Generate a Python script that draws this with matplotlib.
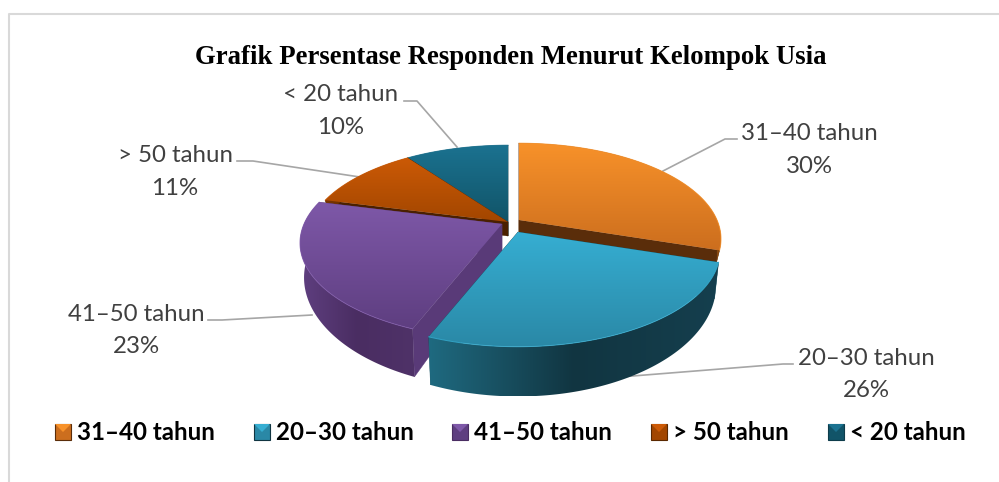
import numpy as np
import matplotlib
matplotlib.use('Agg')
import matplotlib.pyplot as plt
from matplotlib.colors import LinearSegmentedColormap
from matplotlib.patches import Polygon, Rectangle

# data
kelompok = ['31–40 tahun', '20–30 tahun', '41–50 tahun', '> 50 tahun', '< 20 tahun']
persen = [30, 26, 23, 11, 10]
judul = 'Grafik Persentase Responden Menurut Kelompok Usia'

# styles, same order as kelompok
top_warna = [('#F8922A', '#CC6E1E'), ('#36AED2', '#2A88A6'), ('#7E58A8', '#5E3E80'),
             ('#CC5A06', '#A24600'), ('#1B7290', '#115468')]
side_warna = [('#8A4A12', '#5A2D0A', '#8A4A12'), ('#1F6A80', '#113541', '#153F4E'),
              ('#5F3F80', '#4A2D62', '#4F3268'), ('#7A3600', '#5A2800', '#7A3600'),
              ('#114A5C', '#0E3C4B', '#114A5C')]
radial_warna = ['#5A2D0A', '#17505F', '#593A78', '#4A2000', '#0E3C4B']
pusat = [(519, 220), (518, 232), (502, 224), (508, 222), (508, 222)]
tebal = [14, 32, 32, 14, 14]
legend_x = [55, 254, 452, 651, 828]
label_pos = [(809, 150), (866, 374.5), (136, 330.5), (175, 172), (341, 111)]
leader = [[(737, 139), (725, 139), (663, 171)],
          [(793, 364), (783, 364), (620, 377)],
          [(208, 320), (222, 320), (312, 315)],
          [(237, 161), (253, 161), (360, 177)],
          [(404, 101), (417, 101), (457, 147)]]

R = 198
B = 92
K = 0.198
SUSUT = 0.98  # the bottom rim sits slightly inside the top rim


def proj(cx, cy, theta, dalam):
    x = np.cos(theta)
    y = np.sin(theta)
    s = 1 / (1 + K * y)
    return cx + R * x * s, cy - B * y * s, dalam * s**2


def isi_gradien(ax, xs, ys, warna, arah, z):
    pts = np.column_stack([xs, ys])
    patch = Polygon(pts, closed=True, transform=ax.transData, fc='none', ec='none')
    ax.add_patch(patch)
    cmap = LinearSegmentedColormap.from_list('g', warna)
    g = np.linspace(0, 1, 256)
    g = g.reshape(-1, 1) if arah == 'v' else g.reshape(1, -1)
    im = ax.imshow(g, cmap=cmap, vmin=0, vmax=1, aspect='auto', origin='upper',
                   extent=(min(xs), max(xs), max(ys), min(ys)),
                   interpolation='bilinear', zorder=z)
    im.set_clip_path(patch)


fig = plt.figure(figsize=(9.99, 4.82), dpi=100)
ax = fig.add_axes([0, 0, 1, 1])

# frame, open on the right and at the bottom
ax.plot([8.5, 8.5, 999], [482, 13.5, 13.5], color='#D9D9D9', lw=1.5, zorder=1)

# slice angles, clockwise from the top
share = np.array(persen) / sum(persen) * 2 * np.pi
batas = np.pi / 2 - np.concatenate([[0], np.cumsum(share)])

urutan = [4, 3, 0, 2, 1]
z = 3
for i in urutan:
    cx, cy = pusat[i]
    t = np.linspace(batas[i], batas[i + 1], 120)
    ax_x, ax_y, ax_d = proj(cx, cy, t, tebal[i])

    # radial faces
    for sudut in (batas[i], batas[i + 1]):
        ex, ey, ed = proj(cx, cy, sudut, tebal[i])
        ex2 = cx + (ex - cx) * SUSUT
        ax.add_patch(Polygon([(cx, cy), (ex, ey), (ex2, ey + ed), (cx, cy + tebal[i])],
                             fc=radial_warna[i], ec=radial_warna[i], lw=0.3, zorder=z))
    z += 1

    # outer wall
    bawah_x = cx + (ax_x - cx) * SUSUT
    wx = np.concatenate([ax_x, bawah_x[::-1]])
    wy = np.concatenate([ax_y, (ax_y + ax_d)[::-1]])
    isi_gradien(ax, wx, wy, side_warna[i], 'h', z)
    z += 1

    # top surface
    tx = np.concatenate([[cx], ax_x])
    ty = np.concatenate([[cy], ax_y])
    isi_gradien(ax, tx, ty, top_warna[i], 'v', z)
    z += 1
    ax.plot(ax_x, ax_y, color=top_warna[i][0], lw=0.7, alpha=0.8, zorder=z)
    z += 1

# leader lines sit behind the pie
for garis in leader:
    lx = [p[0] for p in garis]
    ly = [p[1] for p in garis]
    ax.plot(lx, ly, color='#A6A6A6', lw=1.2, zorder=2)

# data labels
for nama, p, pos in zip(kelompok, persen, label_pos):
    ax.text(pos[0], pos[1], f'{nama}\n{p}%', ha='center', va='center', fontsize=17.3,
            family='Lato', color='#404040', linespacing=1.7, zorder=30)

ax.text(511, 57, judul, ha='center', va='center', fontsize=19.3, fontweight='bold',
        family='Liberation Serif', color='black', zorder=30)

# legend
for nama, lx, atas, bawah in zip(kelompok, legend_x, top_warna, side_warna):
    ax.add_patch(Rectangle((lx, 424), 16, 16, fc=atas[1], ec=bawah[1], lw=0.8, zorder=20))
    ax.add_patch(Polygon([(lx, 424), (lx + 16, 424), (lx + 8, 432)], fc=atas[0], ec='none', zorder=21))
    ax.text(lx + 22, 432.5, nama, ha='left', va='center', fontsize=17.4, fontweight='bold',
            family='Lato', color='black', zorder=30)

ax.set_xlim(0, 999)
ax.set_ylim(482, 0)
ax.axis('off')
fig.savefig('out.png', dpi=100)
